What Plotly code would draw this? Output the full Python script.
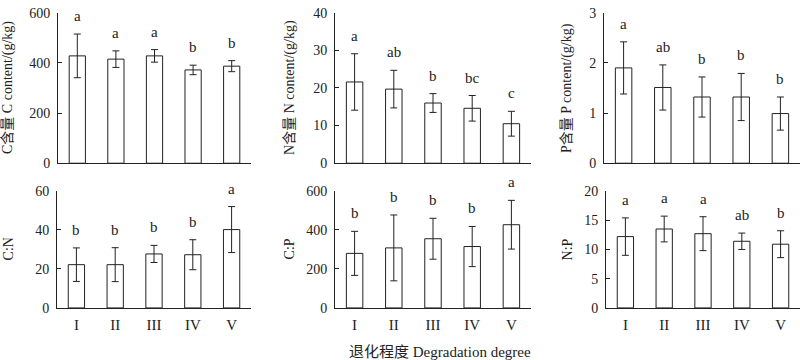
import plotly.graph_objects as go

degrees = ["I", "II", "III", "IV", "V"]

c_mean = [428, 415, 428, 372, 387]
c_sd = [87, 33, 25, 19, 22]
c_sig = ["a", "a", "a", "b", "b"]

n_mean = [21.6, 19.7, 16.0, 14.6, 10.5]
n_sd = [7.5, 5.0, 2.5, 3.4, 3.3]
n_sig = ["a", "ab", "b", "bc", "c"]

p_mean = [1.90, 1.51, 1.32, 1.32, 0.99]
p_sd = [0.52, 0.45, 0.40, 0.47, 0.33]
p_sig = ["a", "ab", "b", "b", "b"]

cn_mean = [22.2, 22.2, 27.7, 27.3, 40.2]
cn_sd = [8.6, 8.7, 4.4, 7.7, 11.8]
cn_sig = ["b", "b", "b", "b", "a"]

cp_mean = [280, 308, 355, 315, 427]
cp_sd = [113, 169, 105, 103, 125]
cp_sig = ["b", "b", "b", "b", "a"]

np_mean = [12.2, 13.5, 12.7, 11.4, 10.9]
np_sd = [3.2, 2.2, 2.9, 1.4, 2.3]
np_sig = ["a", "a", "a", "ab", "b"]

titles = ["C含量 C content/(g/kg)", "N含量 N content/(g/kg)", "P含量 P content/(g/kg)",
          "C:N", "C:P", "N:P"]
yranges = [(0, 600, 200), (0, 40, 10), (0, 3, 1), (0, 60, 20), (0, 600, 200), (0, 20, 5)]
xlabel = "退化程度 Degradation degree"

panels = [(c_mean, c_sd, c_sig), (n_mean, n_sd, n_sig), (p_mean, p_sd, p_sig),
          (cn_mean, cn_sd, cn_sig), (cp_mean, cp_sd, cp_sig), (np_mean, np_sd, np_sig)]

W, H = 800, 360
FONT = "Liberation Serif, Noto Sans CJK SC, serif"

# pixel layout of the plot areas: (x0, x1, ytop, ybottom)
boxes = [(58, 251, 6, 163), (335, 531, 6, 163), (604, 800, 6, 163),
         (57, 251, 192, 314), (335, 531, 192, 314), (606, 800, 192, 314)]
title_x = [8, 290, 567, 8, 289, 567]

fig = go.Figure()
annotations = []
for i, ((mean, sd, sig), box, (y0, y1, dt)) in enumerate(zip(panels, boxes, yranges)):
    k = "" if i == 0 else str(i + 1)
    fig.add_trace(go.Bar(
        x=degrees, y=mean, width=0.42,
        marker=dict(color="white", line=dict(color="#222", width=1)),
        error_y=dict(type="data", array=sd, visible=True, color="#222",
                     thickness=1, width=3.5),
        xaxis="x" + k, yaxis="y" + k, showlegend=False, hoverinfo="skip",
    ))
    x0, x1, yt, yb = box
    fig.update_layout(**{
        "xaxis" + k: dict(
            domain=[x0 / W, x1 / W], anchor="y" + k,
            showline=True, linecolor="#222", linewidth=1, ticks="",
            showticklabels=(i >= 3), showgrid=False, zeroline=False,
            tickfont=dict(family=FONT, size=15, color="#222"),
            ticklabelstandoff=3,
            range=[-0.5, 4.5], type="category",
        ),
        "yaxis" + k: dict(
            domain=[1 - yb / H, 1 - yt / H], anchor="x" + k,
            range=[y0, y1], dtick=dt, tick0=0,
            showline=True, linecolor="#222", linewidth=1,
            ticks="inside", ticklen=4, tickcolor="#222",
            showgrid=False, zeroline=False, ticklabelstandoff=4,
            tickfont=dict(family=FONT, size=14, color="#222"),
        ),
    })
    for d, m, s, g in zip(degrees, mean, sd, sig):
        annotations.append(dict(
            x=d, y=m + s, xref="x" + k, yref="y" + k, text=g, showarrow=False,
            yanchor="middle", yshift=18,
            font=dict(family=FONT, size=15, color="#222"),
        ))
    annotations.append(dict(
        x=title_x[i] / W, y=1 - (yt + yb) / 2 / H, xref="paper", yref="paper",
        text=titles[i], textangle=-90, showarrow=False,
        xanchor="center", yanchor="middle",
        font=dict(family=FONT, size=14, color="#222"),
    ))

annotations.append(dict(
    x=440 / W, y=0, xref="paper", yref="paper", text=xlabel,
    showarrow=False, xanchor="center", yanchor="bottom", yshift=-10,
    font=dict(family=FONT, size=15, color="#222"),
))

fig.update_layout(
    width=W, height=H, margin=dict(l=0, r=0, t=0, b=0),
    paper_bgcolor="white", plot_bgcolor="white",
    annotations=annotations, bargap=0.5,
)

fig.write_html(
    "out.html",
    config={"displayModeBar": False},
    post_script="document.body.style.margin='0';document.body.style.overflow='hidden';",
)
